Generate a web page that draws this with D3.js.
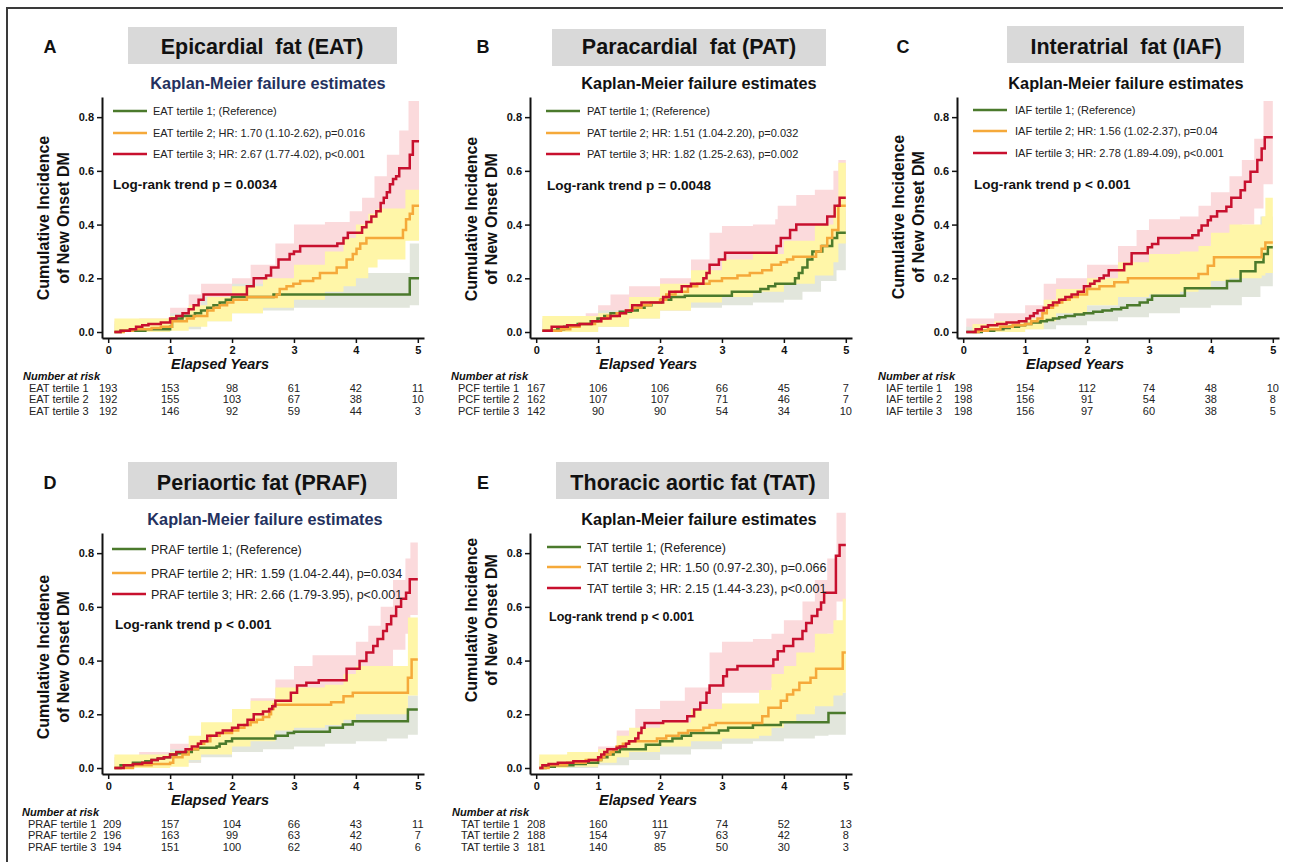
<!DOCTYPE html>
<html><head><meta charset="utf-8">
<script src="https://cdn.jsdelivr.net/npm/d3@7"></script>
<style>
body{margin:0;background:#fff}
svg{display:block}
text{font-family:"Liberation Sans",Arial,Helvetica,sans-serif}
</style>
</head><body>
<svg id="c" width="1291" height="862"></svg>
<script>
// ---------------- DATA ----------------
const xTicks = [0, 1, 2, 3, 4, 5];
const yTicks = [0, 0.2, 0.4, 0.6, 0.8];
const panelLetters = ["A", "B", "C", "D", "E"];
const panelTitles = ["Epicardial  fat (EAT)", "Paracardial  fat (PAT)", "Interatrial  fat (IAF)", "Periaortic fat (PRAF)", "Thoracic aortic fat (TAT)"];
const subtitle = "Kaplan-Meier failure estimates";
const yTitle = ["Cumulative Incidence", "of New Onset DM"];
const xTitle = "Elapsed Years";
const logRankText = ["Log-rank trend p = 0.0034", "Log-rank trend p = 0.0048", "Log-rank trend p < 0.001", "Log-rank trend p < 0.001", "Log-rank trend p < 0.001"];

const legend_A = ["EAT tertile 1; (Reference)", "EAT tertile 2; HR: 1.70 (1.10-2.62), p=0.016", "EAT tertile 3; HR: 2.67 (1.77-4.02), p<0.001"];
const legend_B = ["PAT tertile 1; (Reference)", "PAT tertile 2; HR: 1.51 (1.04-2.20), p=0.032", "PAT tertile 3; HR: 1.82 (1.25-2.63), p=0.002"];
const legend_C = ["IAF tertile 1; (Reference)", "IAF tertile 2; HR: 1.56 (1.02-2.37), p=0.04", "IAF tertile 3; HR: 2.78 (1.89-4.09), p<0.001"];
const legend_D = ["PRAF tertile 1; (Reference)", "PRAF tertile 2; HR: 1.59 (1.04-2.44), p=0.034", "PRAF tertile 3; HR: 2.66 (1.79-3.95), p<0.001"];
const legend_E = ["TAT tertile 1; (Reference)", "TAT tertile 2; HR: 1.50 (0.97-2.30), p=0.066", "TAT tertile 3; HR: 2.15 (1.44-3.23), p<0.001"];

const riskHeader = "Number at risk";
const riskLabels_A = ["EAT tertile 1", "EAT tertile 2", "EAT tertile 3"];
const riskLabels_B = ["PCF tertile 1", "PCF tertile 2", "PCF tertile 3"];
const riskLabels_C = ["IAF tertile 1", "IAF tertile 2", "IAF tertile 3"];
const riskLabels_D = ["PRAF tertile 1", "PRAF tertile 2", "PRAF tertile 3"];
const riskLabels_E = ["TAT tertile 1", "TAT tertile 2", "TAT tertile 3"];
const risk_A = [[193,153,98,61,42,11],[192,155,103,67,38,10],[192,146,92,59,44,3]];
const risk_B = [[167,106,106,66,45,7],[162,107,107,71,46,7],[142,90,90,54,34,10]];
const risk_C = [[198,154,112,74,48,10],[198,156,91,54,38,8],[198,156,97,60,38,5]];
const risk_D = [[209,157,104,66,43,11],[196,163,99,63,42,7],[194,151,100,62,40,6]];
const risk_E = [[208,160,111,74,52,13],[188,154,97,63,42,8],[181,140,85,50,30,3]];

// Kaplan-Meier failure estimates: [years, cumulative incidence]
const est_A1 = [[0.1,0],[0.2,0.005],[0.6,0.01],[1.0,0.02],[1.03,0.05],[1.2,0.06],[1.4,0.07],[1.5,0.08],[1.6,0.09],[1.7,0.1],[1.8,0.11],[1.9,0.12],[2.0,0.13],[2.67,0.14],[4.87,0.2],[5.02,0.2]];
const est_A2 = [[0.1,0],[0.25,0.005],[0.4,0.01],[0.7,0.015],[0.85,0.02],[1.03,0.04],[1.27,0.05],[1.38,0.06],[1.6,0.08],[1.7,0.09],[1.8,0.1],[1.92,0.11],[2.02,0.12],[2.24,0.13],[2.72,0.14],[2.77,0.16],[2.88,0.17],[2.99,0.18],[3.1,0.19],[3.31,0.2],[3.42,0.22],[3.69,0.24],[3.85,0.27],[3.95,0.29],[4.01,0.31],[4.07,0.33],[4.17,0.35],[4.76,0.38],[4.81,0.42],[4.87,0.44],[4.92,0.47],[5.02,0.47]];
const est_A3 = [[0.1,0],[0.2,0.005],[0.35,0.01],[0.45,0.02],[0.55,0.025],[0.65,0.03],[0.85,0.035],[1.0,0.05],[1.1,0.06],[1.2,0.07],[1.3,0.085],[1.38,0.1],[1.46,0.12],[1.54,0.14],[2.24,0.17],[2.35,0.2],[2.55,0.21],[2.63,0.24],[2.75,0.27],[2.93,0.29],[3.0,0.3],[3.1,0.32],[3.7,0.33],[3.8,0.35],[3.87,0.37],[4.1,0.39],[4.17,0.41],[4.25,0.43],[4.33,0.45],[4.4,0.48],[4.45,0.5],[4.5,0.52],[4.55,0.55],[4.6,0.57],[4.65,0.58],[4.7,0.61],[4.87,0.66],[4.92,0.71],[5.02,0.71]];
const est_B1 = [[0.1,0.005],[0.34,0.01],[0.45,0.02],[0.67,0.03],[0.88,0.04],[0.99,0.05],[1.1,0.06],[1.2,0.07],[1.35,0.075],[1.53,0.08],[1.64,0.09],[1.75,0.1],[1.86,0.11],[2.02,0.12],[2.18,0.13],[2.4,0.135],[3.16,0.15],[3.62,0.16],[3.75,0.17],[3.86,0.18],[4.18,0.2],[4.24,0.22],[4.3,0.24],[4.38,0.27],[4.46,0.3],[4.62,0.32],[4.78,0.35],[4.86,0.37],[5.0,0.37]];
const est_B2 = [[0.1,0.005],[0.4,0.01],[0.55,0.02],[0.7,0.03],[0.95,0.04],[1.05,0.05],[1.15,0.06],[1.3,0.07],[1.45,0.08],[1.55,0.09],[1.7,0.1],[1.85,0.11],[2.0,0.12],[2.1,0.14],[2.25,0.15],[2.45,0.17],[2.6,0.18],[2.8,0.19],[3.0,0.2],[3.25,0.21],[3.45,0.22],[3.65,0.23],[3.8,0.25],[3.95,0.26],[4.05,0.27],[4.15,0.28],[4.52,0.3],[4.6,0.32],[4.7,0.35],[4.78,0.38],[4.88,0.47],[5.0,0.47]];
const est_B3 = [[0.1,0.005],[0.25,0.02],[0.5,0.025],[0.7,0.03],[0.9,0.04],[1.05,0.05],[1.2,0.06],[1.35,0.07],[1.45,0.08],[1.55,0.1],[1.7,0.11],[2.05,0.13],[2.15,0.15],[2.35,0.17],[2.5,0.18],[2.7,0.2],[2.75,0.22],[2.8,0.25],[2.95,0.27],[3.05,0.295],[3.88,0.32],[3.95,0.35],[4.1,0.38],[4.2,0.4],[4.7,0.43],[4.82,0.47],[4.9,0.5],[5.0,0.5]];
const est_C1 = [[0.05,0],[0.3,0.005],[0.5,0.01],[0.65,0.015],[0.75,0.02],[0.9,0.025],[1.0,0.03],[1.1,0.035],[1.25,0.04],[1.35,0.045],[1.45,0.05],[1.55,0.055],[1.65,0.06],[1.8,0.065],[1.95,0.07],[2.1,0.075],[2.25,0.08],[2.4,0.085],[2.55,0.09],[2.65,0.1],[2.85,0.11],[2.98,0.12],[3.05,0.135],[3.58,0.163],[4.26,0.19],[4.48,0.226],[4.72,0.26],[4.85,0.29],[4.92,0.316],[5.0,0.316]];
const est_C2 = [[0.15,0],[0.25,0.005],[0.4,0.01],[0.6,0.02],[0.8,0.025],[1.0,0.03],[1.1,0.04],[1.2,0.05],[1.28,0.07],[1.35,0.09],[1.45,0.1],[1.52,0.11],[1.6,0.12],[1.72,0.13],[1.85,0.14],[2.0,0.16],[2.2,0.17],[2.44,0.185],[2.66,0.2],[3.8,0.216],[3.95,0.247],[4.05,0.278],[4.82,0.31],[4.88,0.333],[5.0,0.333]];
const est_C3 = [[0.05,0],[0.2,0.01],[0.3,0.02],[0.4,0.025],[0.55,0.03],[0.7,0.035],[0.9,0.04],[1.02,0.05],[1.08,0.06],[1.14,0.07],[1.2,0.08],[1.3,0.09],[1.38,0.1],[1.45,0.11],[1.55,0.12],[1.65,0.13],[1.75,0.14],[1.85,0.15],[1.95,0.17],[2.05,0.18],[2.12,0.19],[2.2,0.2],[2.27,0.21],[2.35,0.23],[2.6,0.253],[2.72,0.293],[2.98,0.316],[3.05,0.328],[3.15,0.35],[3.7,0.36],[3.8,0.378],[3.85,0.397],[3.95,0.416],[4.0,0.43],[4.1,0.45],[4.25,0.466],[4.33,0.5],[4.48,0.528],[4.55,0.559],[4.64,0.597],[4.75,0.64],[4.82,0.683],[4.87,0.725],[5.0,0.725]];
const est_D1 = [[0.1,0],[0.2,0.01],[0.4,0.02],[0.6,0.025],[0.7,0.03],[0.8,0.035],[0.9,0.04],[1.0,0.05],[1.1,0.055],[1.25,0.06],[1.35,0.07],[1.45,0.075],[1.75,0.08],[1.8,0.09],[1.9,0.1],[2.0,0.11],[2.7,0.12],[2.9,0.13],[3.0,0.135],[3.58,0.15],[3.79,0.162],[3.95,0.174],[4.84,0.218],[5.0,0.218]];
const est_D2 = [[0.1,0],[0.4,0.01],[0.7,0.015],[1.0,0.02],[1.05,0.04],[1.2,0.05],[1.3,0.07],[1.45,0.09],[1.55,0.1],[1.65,0.12],[1.8,0.13],[2.0,0.14],[2.1,0.15],[2.2,0.16],[2.3,0.17],[2.4,0.18],[2.5,0.19],[2.6,0.2],[2.63,0.22],[2.67,0.236],[3.6,0.245],[3.8,0.267],[3.95,0.28],[4.84,0.336],[4.9,0.404],[5.0,0.404]];
const est_D3 = [[0.1,0],[0.25,0.01],[0.4,0.015],[0.55,0.02],[0.7,0.03],[0.8,0.035],[0.9,0.04],[1.0,0.05],[1.1,0.06],[1.25,0.07],[1.35,0.08],[1.45,0.09],[1.5,0.1],[1.6,0.12],[1.75,0.13],[1.85,0.14],[2.0,0.15],[2.1,0.16],[2.25,0.18],[2.35,0.2],[2.5,0.21],[2.6,0.22],[2.65,0.23],[2.7,0.25],[2.95,0.28],[3.05,0.307],[3.2,0.317],[3.4,0.327],[3.85,0.37],[4.06,0.398],[4.17,0.43],[4.28,0.454],[4.35,0.48],[4.44,0.51],[4.5,0.535],[4.57,0.566],[4.65,0.6],[4.73,0.63],[4.81,0.653],[4.87,0.703],[5.0,0.703]];
const est_E1 = [[0.05,0],[0.15,0.005],[0.3,0.01],[0.6,0.015],[0.8,0.02],[1.0,0.03],[1.05,0.04],[1.15,0.05],[1.25,0.06],[1.35,0.07],[1.77,0.087],[2.0,0.1],[2.2,0.11],[2.35,0.12],[2.5,0.13],[2.95,0.14],[3.1,0.15],[3.5,0.16],[3.95,0.17],[4.72,0.205],[5.0,0.205]];
const est_E2 = [[0.05,0],[0.2,0.01],[0.5,0.02],[0.8,0.03],[1.05,0.04],[1.1,0.05],[1.2,0.06],[1.25,0.07],[1.3,0.08],[1.4,0.09],[1.5,0.1],[1.95,0.11],[2.1,0.12],[2.3,0.13],[2.45,0.14],[2.7,0.15],[2.8,0.16],[2.9,0.168],[3.65,0.193],[3.75,0.224],[3.95,0.25],[4.05,0.274],[4.15,0.29],[4.25,0.317],[4.43,0.336],[4.52,0.37],[4.95,0.43],[5.0,0.43]];
const est_E3 = [[0.05,0],[0.1,0.01],[0.2,0.015],[0.35,0.02],[0.6,0.025],[0.85,0.03],[1.0,0.04],[1.05,0.05],[1.1,0.06],[1.15,0.07],[1.3,0.075],[1.35,0.08],[1.45,0.09],[1.5,0.1],[1.6,0.11],[1.65,0.13],[1.7,0.15],[1.75,0.168],[2.05,0.174],[2.44,0.193],[2.55,0.218],[2.65,0.243],[2.75,0.28],[2.8,0.307],[3.02,0.342],[3.08,0.367],[3.25,0.38],[3.83,0.404],[3.9,0.435],[4.0,0.454],[4.15,0.48],[4.3,0.51],[4.36,0.54],[4.45,0.566],[4.54,0.59],[4.6,0.616],[4.65,0.653],[4.84,0.79],[4.9,0.83],[5.0,0.83]];

// 95% confidence bands: [years, lower, upper]
const ci_A1 = [[0.1,0,0.03],[0.5,0,0.035],[1.0,0.01,0.07],[1.5,0.04,0.13],[2.0,0.07,0.18],[2.5,0.08,0.19],[3.0,0.09,0.2],[3.5,0.09,0.21],[4.0,0.09,0.22],[4.87,0.1,0.33],[5.02,0.1,0.33]];
const ci_A2 = [[0.1,0,0.05],[0.5,0,0.05],[1.0,0.005,0.06],[1.3,0.02,0.1],[1.6,0.04,0.13],[2.0,0.07,0.17],[2.5,0.09,0.2],[3.0,0.12,0.25],[3.5,0.15,0.3],[3.8,0.17,0.35],[4.0,0.2,0.4],[4.2,0.24,0.44],[4.35,0.27,0.46],[4.8,0.34,0.53],[5.02,0.34,0.53]];
const ci_A3 = [[0.1,0,0.04],[0.5,0.005,0.05],[1.0,0.02,0.09],[1.3,0.05,0.14],[1.5,0.08,0.18],[2.0,0.1,0.2],[2.3,0.12,0.25],[2.7,0.18,0.33],[3.0,0.22,0.4],[3.5,0.24,0.41],[3.9,0.28,0.45],[4.1,0.3,0.5],[4.3,0.34,0.58],[4.5,0.38,0.66],[4.7,0.44,0.75],[4.85,0.52,0.86],[5.02,0.55,0.86]];
const ci_B1 = [[0.1,0,0.04],[0.5,0,0.045],[1.0,0.02,0.08],[1.5,0.05,0.12],[2.0,0.08,0.17],[2.5,0.09,0.18],[3.0,0.1,0.19],[3.5,0.11,0.21],[4.0,0.12,0.24],[4.3,0.15,0.32],[4.6,0.19,0.38],[4.85,0.23,0.45],[5.0,0.23,0.45]];
const ci_B2 = [[0.1,0,0.06],[0.5,0,0.06],[1.0,0.02,0.07],[1.5,0.05,0.13],[2.0,0.08,0.18],[2.5,0.11,0.23],[3.0,0.13,0.27],[3.5,0.15,0.29],[4.0,0.18,0.34],[4.5,0.21,0.4],[4.8,0.26,0.47],[4.88,0.33,0.63],[5.0,0.33,0.63]];
const ci_B3 = [[0.1,0,0.05],[0.3,0.005,0.06],[0.8,0.01,0.07],[1.0,0.02,0.1],[1.2,0.04,0.14],[1.5,0.06,0.17],[2.0,0.08,0.2],[2.5,0.11,0.27],[2.8,0.17,0.37],[3.0,0.2,0.395],[3.5,0.21,0.4],[3.86,0.23,0.42],[3.9,0.25,0.47],[4.2,0.29,0.51],[4.5,0.32,0.53],[4.8,0.36,0.6],[4.88,0.38,0.64],[5.0,0.38,0.64]];
const ci_C1 = [[0.05,0,0.02],[0.5,0,0.03],[1.0,0.01,0.05],[1.5,0.025,0.08],[2.0,0.04,0.1],[2.5,0.055,0.13],[3.0,0.07,0.17],[3.5,0.09,0.2],[4.0,0.1,0.24],[4.5,0.13,0.33],[4.8,0.17,0.43],[5.0,0.2,0.43]];
const ci_C2 = [[0.15,0,0.03],[0.5,0,0.04],[1.0,0.01,0.05],[1.3,0.04,0.12],[1.5,0.07,0.16],[2.0,0.1,0.2],[2.5,0.13,0.26],[3.0,0.14,0.29],[3.5,0.15,0.3],[3.8,0.16,0.32],[4.0,0.19,0.37],[4.3,0.2,0.4],[4.82,0.21,0.43],[4.88,0.22,0.5],[5.0,0.22,0.5]];
const ci_C3 = [[0.05,0,0.05],[0.5,0.01,0.07],[1.0,0.02,0.1],[1.3,0.05,0.18],[1.5,0.08,0.2],[2.0,0.12,0.25],[2.5,0.16,0.32],[2.8,0.22,0.38],[3.0,0.25,0.42],[3.5,0.27,0.43],[3.8,0.29,0.47],[4.0,0.33,0.52],[4.3,0.37,0.58],[4.5,0.4,0.64],[4.7,0.46,0.72],[4.85,0.55,0.86],[5.0,0.58,0.86]];
const ci_D1 = [[0.1,0,0.03],[0.5,0,0.05],[1.0,0.02,0.07],[1.5,0.04,0.1],[2.0,0.06,0.14],[2.5,0.07,0.15],[3.0,0.08,0.18],[3.5,0.09,0.19],[4.0,0.1,0.22],[4.5,0.11,0.23],[4.84,0.124,0.27],[5.0,0.124,0.27]];
const ci_D2 = [[0.1,0,0.05],[0.5,0,0.05],[1.0,0.005,0.06],[1.3,0.03,0.12],[1.5,0.05,0.17],[2.0,0.08,0.22],[2.3,0.1,0.25],[2.7,0.14,0.3],[3.0,0.15,0.3],[3.5,0.16,0.31],[3.8,0.18,0.35],[4.0,0.2,0.38],[4.84,0.27,0.56],[5.0,0.27,0.56]];
const ci_D3 = [[0.1,0,0.04],[0.5,0.005,0.06],[1.0,0.02,0.09],[1.5,0.06,0.16],[2.0,0.09,0.2],[2.3,0.12,0.26],[2.7,0.17,0.33],[3.0,0.2,0.38],[3.3,0.24,0.42],[3.8,0.25,0.42],[4.0,0.29,0.47],[4.2,0.33,0.53],[4.4,0.38,0.6],[4.6,0.44,0.7],[4.8,0.5,0.78],[4.88,0.57,0.84],[5.0,0.58,0.84]];
const ci_E1 = [[0.05,0,0.03],[0.5,0,0.04],[1.0,0.01,0.06],[1.5,0.03,0.1],[2.0,0.05,0.14],[2.5,0.07,0.17],[3.0,0.09,0.19],[3.5,0.1,0.21],[4.0,0.11,0.22],[4.5,0.12,0.24],[4.72,0.124,0.28],[5.0,0.124,0.28]];
const ci_E2 = [[0.05,0,0.05],[0.5,0.005,0.06],[1.0,0.02,0.07],[1.3,0.04,0.12],[1.5,0.06,0.15],[2.0,0.08,0.17],[2.5,0.1,0.22],[3.0,0.11,0.24],[3.6,0.12,0.29],[3.8,0.15,0.35],[4.0,0.17,0.38],[4.2,0.2,0.43],[4.5,0.23,0.5],[4.8,0.27,0.55],[4.95,0.28,0.63],[5.0,0.28,0.63]];
const ci_E3 = [[0.05,0,0.04],[0.5,0.01,0.05],[1.0,0.02,0.08],[1.3,0.04,0.14],[1.6,0.08,0.22],[2.0,0.11,0.25],[2.4,0.14,0.3],[2.8,0.22,0.43],[3.0,0.28,0.47],[3.5,0.28,0.48],[3.8,0.3,0.5],[4.0,0.34,0.55],[4.3,0.4,0.62],[4.5,0.45,0.7],[4.7,0.5,0.78],[4.85,0.62,0.95],[5.0,0.68,0.95]];

// ---------------- LAYOUT / STYLE ----------------
const LINE_COLORS = ["#4b7a2c", "#f5a93a", "#c8102e"];
const BAND_COLORS = ["#e2e6dc", "#fff6a8", "#fbdadc"];
const BAND_ORDER = [2, 0, 1];
const LAYOUT = [
  {ox:0,   oy:0,   box:[128,27,397,64], titleX:262, letterX:50, subX:268, subColor:"#24315e", legX:113, legTextX:153, legY:[111,133,154], legFont:11,   lrX:113, lrY:189, lrFont:13.5, riskX:29, hdrX:23, yTitleY:218, col0:0},
  {ox:428, oy:0,   box:[124,29,398,66], titleX:261, letterX:55, subX:271, subColor:"#111",    legX:118, legTextX:159, legY:[111,133,154], legFont:11,   lrX:119, lrY:190, lrFont:13.5, riskX:30, hdrX:23, yTitleY:219, col0:0},
  {ox:855, oy:0,   box:[152,26,389,63], titleX:271, letterX:48, subX:271, subColor:"#111",    legX:118, legTextX:160, legY:[110,131,153], legFont:11,   lrX:119, lrY:189, lrFont:13.5, riskX:31, hdrX:23, yTitleY:217, col0:0},
  {ox:0,   oy:436, box:[128,26,397,63], titleX:262, letterX:50, subX:265, subColor:"#24315e", legX:112, legTextX:151, legY:[113,137,158], legFont:12.5, lrX:115, lrY:193, lrFont:13.5, riskX:28, hdrX:22, yTitleY:221, col0:4},
  {ox:428, oy:436, box:[128,26,401,63], titleX:265, letterX:55, subX:271, subColor:"#111",    legX:119, legTextX:159, legY:[111,131,152], legFont:12.5, lrX:121, lrY:185, lrFont:12.5, riskX:33, hdrX:24, yTitleY:184, col0:0}
];

const panels = [
  {est:[est_A1,est_A2,est_A3], ci:[ci_A1,ci_A2,ci_A3], legend:legend_A, riskLabels:riskLabels_A, risk:risk_A},
  {est:[est_B1,est_B2,est_B3], ci:[ci_B1,ci_B2,ci_B3], legend:legend_B, riskLabels:riskLabels_B, risk:risk_B},
  {est:[est_C1,est_C2,est_C3], ci:[ci_C1,ci_C2,ci_C3], legend:legend_C, riskLabels:riskLabels_C, risk:risk_C},
  {est:[est_D1,est_D2,est_D3], ci:[ci_D1,ci_D2,ci_D3], legend:legend_D, riskLabels:riskLabels_D, risk:risk_D},
  {est:[est_E1,est_E2,est_E3], ci:[ci_E1,ci_E2,ci_E3], legend:legend_E, riskLabels:riskLabels_E, risk:risk_E}
];

// ---------------- DRAW ----------------
const svg = d3.select("#c");
svg.append("line").attr("x1",7).attr("y1",8).attr("x2",1283).attr("y2",8).attr("stroke","#3a3a3a").attr("stroke-width",2);
svg.append("line").attr("x1",7).attr("y1",7).attr("x2",7).attr("y2",862).attr("stroke","#3a3a3a").attr("stroke-width",2);

panels.forEach((p, i) => {
  const L = LAYOUT[i];
  const g = svg.append("g").attr("transform", `translate(${L.ox},${L.oy})`);
  const x = d3.scaleLinear().domain([-0.1, 5.1]).range([102, 424]);
  const y = d3.scaleLinear().domain([-0.0223, 0.875]).range([338, 97]);

  g.append("rect").attr("x", L.box[0]).attr("y", L.box[1])
    .attr("width", L.box[2]-L.box[0]).attr("height", L.box[3]-L.box[1]).attr("fill", "#d9d9d9");
  g.append("text").attr("x", L.titleX).attr("y", 53.5).attr("text-anchor","middle")
    .style("white-space","pre").attr("font-size", 21.5).attr("font-weight","bold").attr("fill","#111").text(panelTitles[i]);
  g.append("text").attr("x", L.letterX).attr("y", 53).attr("text-anchor","middle")
    .attr("font-size", 18).attr("font-weight","bold").attr("fill","#111").text(panelLetters[i]);
  g.append("text").attr("x", L.subX).attr("y", 89).attr("text-anchor","middle")
    .attr("font-size", 16.3).attr("font-weight","bold").attr("fill", L.subColor).text(subtitle);

  const area = d3.area().curve(d3.curveStepAfter)
    .x(d => x(d[0])).y0(d => y(d[1])).y1(d => y(d[2]));
  BAND_ORDER.forEach(k => {
    g.append("path").attr("d", area(p.ci[k])).attr("fill", BAND_COLORS[k]).attr("stroke","none");
  });

  const line = d3.line().curve(d3.curveStepAfter).x(d => x(d[0])).y(d => y(d[1]));
  [0,1,2].forEach(k => {
    g.append("path").attr("d", line(p.est[k])).attr("fill","none")
      .attr("stroke", LINE_COLORS[k]).attr("stroke-width", 2.5).attr("stroke-linejoin","miter");
  });

  const yAxis = d3.axisLeft(y).tickValues(yTicks).tickFormat(d3.format(".1f")).tickSizeInner(5).tickSizeOuter(0).tickPadding(3);
  const ya = g.append("g").attr("transform","translate(102,0)").call(yAxis);
  const xAxis = d3.axisBottom(x).tickValues(xTicks).tickFormat(d3.format("d")).tickSizeInner(5).tickSizeOuter(0).tickPadding(3);
  const xa = g.append("g").attr("transform","translate(0,338)").call(xAxis);
  [ya, xa].forEach(a => {
    a.select(".domain").attr("stroke","#111").attr("stroke-width",2);
    a.selectAll(".tick line").attr("stroke","#111").attr("stroke-width",1.5);
    a.selectAll(".tick text").attr("font-size",11).attr("font-weight","bold").attr("fill","#111")
      .attr("font-family",'"Liberation Sans",Arial,sans-serif');
  });

  g.append("text").attr("x", 220).attr("y", 368.5).attr("text-anchor","middle")
    .attr("font-size", 14).attr("font-weight","bold").attr("font-style","italic").attr("fill","#111")
    .attr("textLength", 98).attr("lengthAdjust","spacingAndGlyphs").text(xTitle);
  yTitle.forEach((t, j) => {
    g.append("text").attr("transform", `translate(${49 + j*20},${L.yTitleY}) rotate(-90)`)
      .attr("text-anchor","middle").attr("font-size", 16).attr("font-weight","bold").attr("fill","#111").text(t);
  });

  p.legend.forEach((t, k) => {
    const ly = L.legY[k];
    g.append("line").attr("x1", L.legX).attr("x2", L.legX + 34).attr("y1", ly).attr("y2", ly)
      .attr("stroke", LINE_COLORS[k]).attr("stroke-width", 2.5);
    g.append("text").attr("x", L.legTextX).attr("y", ly + L.legFont*0.36)
      .attr("font-size", L.legFont).attr("fill","#222").text(t);
  });

  g.append("text").attr("x", L.lrX).attr("y", L.lrY).attr("font-size", L.lrFont)
    .attr("font-weight","bold").attr("fill","#111").text(logRankText[i]);

  g.append("text").attr("x", L.hdrX).attr("y", 379.5).attr("font-size", 11)
    .attr("font-weight","bold").attr("font-style","italic").attr("fill","#111").text(riskHeader);
  p.riskLabels.forEach((lab, r) => {
    const ry = 391.5 + r*11.8;
    g.append("text").attr("x", L.riskX).attr("y", ry).attr("font-size", 11).attr("fill","#222").text(lab);
    p.risk[r].forEach((n, c) => {
      g.append("text").attr("x", x(xTicks[c]) + (c === 0 ? L.col0 : 0)).attr("y", ry).attr("text-anchor","middle")
        .attr("font-size", 11).attr("fill","#222").text(n);
    });
  });
});
</script>
</body></html>
